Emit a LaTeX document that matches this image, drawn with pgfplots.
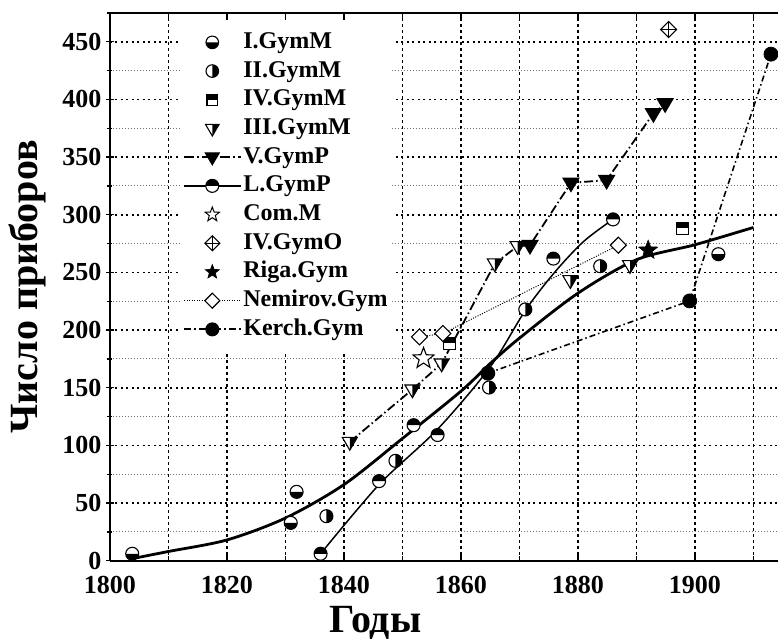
\documentclass[border=0pt]{standalone}
\usepackage{fontspec}
\setmainfont{Liberation Serif}
\usepackage{pgfplots}
\pgfplotsset{compat=1.18}

% circle, bottom half black
\pgfdeclareplotmark{hcB}{%
  \pgfpathcircle{\pgfpointorigin}{\pgfplotmarksize}%
  \pgfsetfillcolor{white}\pgfusepath{fill}%
  \pgfpathmoveto{\pgfpoint{-\pgfplotmarksize}{0pt}}%
  \pgfpatharc{180}{360}{\pgfplotmarksize}%
  \pgfpathclose
  \pgfsetfillcolor{black}\pgfusepath{fill}%
  \pgfpathcircle{\pgfpointorigin}{\pgfplotmarksize}%
  \pgfusepath{stroke}%
}
% circle, top half black
\pgfdeclareplotmark{hcT}{%
  \pgfpathcircle{\pgfpointorigin}{\pgfplotmarksize}%
  \pgfsetfillcolor{white}\pgfusepath{fill}%
  \pgfpathmoveto{\pgfpoint{\pgfplotmarksize}{0pt}}%
  \pgfpatharc{0}{180}{\pgfplotmarksize}%
  \pgfpathclose
  \pgfsetfillcolor{black}\pgfusepath{fill}%
  \pgfpathcircle{\pgfpointorigin}{\pgfplotmarksize}%
  \pgfusepath{stroke}%
}
% circle, right half black
\pgfdeclareplotmark{hcR}{%
  \pgfpathcircle{\pgfpointorigin}{\pgfplotmarksize}%
  \pgfsetfillcolor{white}\pgfusepath{fill}%
  \pgfpathmoveto{\pgfpoint{0pt}{-\pgfplotmarksize}}%
  \pgfpatharc{-90}{90}{\pgfplotmarksize}%
  \pgfpathclose
  \pgfsetfillcolor{black}\pgfusepath{fill}%
  \pgfpathcircle{\pgfpointorigin}{\pgfplotmarksize}%
  \pgfusepath{stroke}%
}
% square, top half black
\pgfdeclareplotmark{hsq}{%
  \pgfpathrectanglecorners{\pgfpoint{-\pgfplotmarksize}{-\pgfplotmarksize}}{\pgfpoint{\pgfplotmarksize}{\pgfplotmarksize}}%
  \pgfsetfillcolor{white}\pgfusepath{fill}%
  \pgfpathrectanglecorners{\pgfpoint{-\pgfplotmarksize}{0pt}}{\pgfpoint{\pgfplotmarksize}{\pgfplotmarksize}}%
  \pgfsetfillcolor{black}\pgfusepath{fill}%
  \pgfpathrectanglecorners{\pgfpoint{-\pgfplotmarksize}{-\pgfplotmarksize}}{\pgfpoint{\pgfplotmarksize}{\pgfplotmarksize}}%
  \pgfusepath{stroke}%
}
% down triangle, right half black
\pgfdeclareplotmark{htri}{%
  \pgfpathmoveto{\pgfpoint{-\pgfplotmarksize}{0.6\pgfplotmarksize}}%
  \pgfpathlineto{\pgfpoint{\pgfplotmarksize}{0.6\pgfplotmarksize}}%
  \pgfpathlineto{\pgfpoint{0pt}{-1.1\pgfplotmarksize}}%
  \pgfpathclose
  \pgfsetfillcolor{white}\pgfusepath{fill}%
  \pgfpathmoveto{\pgfpoint{0pt}{0.6\pgfplotmarksize}}%
  \pgfpathlineto{\pgfpoint{\pgfplotmarksize}{0.6\pgfplotmarksize}}%
  \pgfpathlineto{\pgfpoint{0pt}{-1.1\pgfplotmarksize}}%
  \pgfpathclose
  \pgfsetfillcolor{black}\pgfusepath{fill}%
  \pgfpathmoveto{\pgfpoint{-\pgfplotmarksize}{0.6\pgfplotmarksize}}%
  \pgfpathlineto{\pgfpoint{\pgfplotmarksize}{0.6\pgfplotmarksize}}%
  \pgfpathlineto{\pgfpoint{0pt}{-1.1\pgfplotmarksize}}%
  \pgfpathclose
  \pgfusepath{stroke}%
}
% filled down triangle
\pgfdeclareplotmark{ftri}{%
  \pgfpathmoveto{\pgfpoint{-\pgfplotmarksize}{0.6\pgfplotmarksize}}%
  \pgfpathlineto{\pgfpoint{\pgfplotmarksize}{0.6\pgfplotmarksize}}%
  \pgfpathlineto{\pgfpoint{0pt}{-1.1\pgfplotmarksize}}%
  \pgfpathclose
  \pgfsetfillcolor{black}\pgfusepath{fill,stroke}%
}
% diamond with cross
\pgfdeclareplotmark{dplus}{%
  \pgfpathmoveto{\pgfpoint{0pt}{\pgfplotmarksize}}%
  \pgfpathlineto{\pgfpoint{\pgfplotmarksize}{0pt}}%
  \pgfpathlineto{\pgfpoint{0pt}{-\pgfplotmarksize}}%
  \pgfpathlineto{\pgfpoint{-\pgfplotmarksize}{0pt}}%
  \pgfpathclose
  \pgfsetfillcolor{white}\pgfusepath{fill,stroke}%
  \pgfpathmoveto{\pgfpoint{0pt}{\pgfplotmarksize}}%
  \pgfpathlineto{\pgfpoint{0pt}{-\pgfplotmarksize}}%
  \pgfpathmoveto{\pgfpoint{-\pgfplotmarksize}{0pt}}%
  \pgfpathlineto{\pgfpoint{\pgfplotmarksize}{0pt}}%
  \pgfusepath{stroke}%
}
% open diamond
\pgfdeclareplotmark{odia}{%
  \pgfpathmoveto{\pgfpoint{0pt}{\pgfplotmarksize}}%
  \pgfpathlineto{\pgfpoint{\pgfplotmarksize}{0pt}}%
  \pgfpathlineto{\pgfpoint{0pt}{-\pgfplotmarksize}}%
  \pgfpathlineto{\pgfpoint{-\pgfplotmarksize}{0pt}}%
  \pgfpathclose
  \pgfsetfillcolor{white}\pgfusepath{fill,stroke}%
}
% five-pointed star path
\def\starpath{%
  \pgfpathmoveto{\pgfpointpolar{90}{\pgfplotmarksize}}%
  \pgfpathlineto{\pgfpointpolar{126}{0.42\pgfplotmarksize}}%
  \pgfpathlineto{\pgfpointpolar{162}{\pgfplotmarksize}}%
  \pgfpathlineto{\pgfpointpolar{198}{0.42\pgfplotmarksize}}%
  \pgfpathlineto{\pgfpointpolar{234}{\pgfplotmarksize}}%
  \pgfpathlineto{\pgfpointpolar{270}{0.42\pgfplotmarksize}}%
  \pgfpathlineto{\pgfpointpolar{306}{\pgfplotmarksize}}%
  \pgfpathlineto{\pgfpointpolar{342}{0.42\pgfplotmarksize}}%
  \pgfpathlineto{\pgfpointpolar{18}{\pgfplotmarksize}}%
  \pgfpathlineto{\pgfpointpolar{54}{0.42\pgfplotmarksize}}%
  \pgfpathclose}
\pgfdeclareplotmark{ostar}{\starpath\pgfsetfillcolor{white}\pgfusepath{fill,stroke}}
\pgfdeclareplotmark{fstar}{\starpath\pgfsetfillcolor{black}\pgfusepath{fill,stroke}}
% filled circle
\pgfdeclareplotmark{fcirc}{%
  \pgfpathcircle{\pgfpointorigin}{\pgfplotmarksize}%
  \pgfsetfillcolor{black}\pgfusepath{fill,stroke}%
}

\begin{document}
\begin{tikzpicture}[trim axis right]
\begin{axis}[
  scale only axis,
  width=668pt, height=547.7pt,
  xmin=1800, xmax=1914.2,
  ymin=0, ymax=475,
  axis x line=box, axis y line=left,
  axis line style={-, line width=2pt},
  xtick={1800,1820,...,1900},
  minor xtick={1810,1830,...,1910},
  ytick={0,50,...,450},
  minor ytick={25,75,...,475},
  major tick length=8pt, minor tick length=5pt,
  every tick/.style={black, line width=1.3pt},
  grid=both,
  major x grid style={black, line width=1.3pt, dash pattern=on 2.5pt off 3.5pt},
  minor x grid style={black, line width=1.3pt, dash pattern=on 2.5pt off 3.5pt},
  major y grid style={black, line width=1.6pt, dash pattern=on 2pt off 3.5pt},
  minor y grid style={black!55, line width=1pt, dash pattern=on 1pt off 2pt},
  /pgf/number format/1000 sep={},
  /pgf/number format/assume math mode=true,
  tick label style={font=\bfseries\fontsize{26}{26}\selectfont},
  xticklabel style={yshift=-12pt},
  yticklabel style={xshift=-1pt},
  xlabel={Годы},
  ylabel={Число приборов},
  every axis x label/.style={at={(axis description cs:0.397,-0.1306)}, anchor=base, font=\bfseries\fontsize{40}{40}\selectfont},
  every axis y label/.style={at={(axis description cs:-0.1078,0.5)}, rotate=90, anchor=base, font=\bfseries\fontsize{40}{40}\selectfont},
  legend style={draw=none, fill=white, at={(axis description cs:0.1048,0.9869)}, anchor=north west,
    font=\bfseries\fontsize{24}{24}\selectfont, row sep=4.7pt, inner xsep=3pt, inner ysep=10pt,
    nodes={inner sep=1pt, text height=17pt, text depth=5pt}},
  legend cell align=left,
  legend image code/.code={\draw[mark repeat=2,mark phase=2,#1] plot coordinates {(0pt,0pt) (28pt,0pt) (57pt,0pt)};},
]
% legend entries
\addlegendimage{only marks, mark=hcB, mark size=6.3pt, mark options={line width=1.1pt}}
\addlegendentry{I.GymM}
\addlegendimage{only marks, mark=hcR, mark size=6.3pt, mark options={line width=1.1pt}}
\addlegendentry{II.GymM}
\addlegendimage{only marks, mark=hsq, mark size=5.3pt, mark options={line width=1.1pt}}
\addlegendentry{IV.GymM}
\addlegendimage{only marks, mark=htri, mark size=6.8pt, mark options={line width=1.1pt}}
\addlegendentry{III.GymM}
\addlegendimage{black, line width=2.2pt, dash pattern=on 10pt off 3pt on 2pt off 3pt, mark=ftri, mark size=7pt, mark options={solid, line width=1pt}}
\addlegendentry{V.GymP}
\addlegendimage{black, line width=2.2pt, mark=hcT, mark size=6.5pt, mark options={solid, line width=1.1pt}}
\addlegendentry{L.GymP}
\addlegendimage{only marks, mark=ostar, mark size=7.5pt, mark options={line width=1pt}}
\addlegendentry{Com.M}
\addlegendimage{only marks, mark=dplus, mark size=7.5pt, mark options={line width=1.1pt}}
\addlegendentry{IV.GymO}
\addlegendimage{only marks, mark=fstar, mark size=7.5pt, mark options={line width=0.6pt}}
\addlegendentry{Riga.Gym}
\addlegendimage{black, line width=1.2pt, dash pattern=on 1pt off 1.5pt, mark=odia, mark size=7.5pt, mark options={solid, line width=1.1pt}}
\addlegendentry{Nemirov.Gym}
\addlegendimage{black, line width=2pt, dash pattern=on 7pt off 3pt on 2pt off 3pt, mark=fcirc, mark size=6.5pt, mark options={solid, line width=1pt}}
\addlegendentry{Kerch.Gym}

% thick fitted curve
\addplot[forget plot, black, line width=2.8pt, smooth, no marks] coordinates {
 (1804,2) (1810,8) (1820,18) (1830,37) (1840,66) (1850,106) (1860,147) (1865,171)
 (1870,193) (1880,232) (1890,261) (1900,274) (1910,289)};
% L.GymP line
\addplot[forget plot, black, line width=1.5pt, smooth, no marks] coordinates {
 (1836,6) (1846,66) (1856,114) (1865,168) (1871,217) (1876,250) (1881,277) (1886,296)};
% V.GymP line
\addplot[forget plot, black, line width=1.8pt, dash pattern=on 9pt off 3pt on 1.5pt off 3pt, no marks] coordinates {
 (1841,103) (1851.7,148.5) (1856.7,171) (1865.8,257.8) (1869.7,272.8) (1871.8,273.6)
 (1878.8,327.7) (1884.9,330) (1892.9,387.9) (1894.9,396.5)};
% Nemirov line
\addplot[forget plot, black, line width=1pt, dash pattern=on 1pt off 1.5pt, no marks] coordinates {
 (1852.9,194.1) (1856.9,197) (1886.9,273.6)};
% Kerch line
\addplot[forget plot, black, line width=1.6pt, dash pattern=on 6pt off 3pt on 1.5pt off 3pt, no marks] coordinates {
 (1864.6,162.6) (1899.1,225.3) (1913,439.3)};

% markers
\addplot[forget plot, only marks, mark=hcB, mark size=6.5pt, mark options={line width=1.1pt}] coordinates {
 (1803.8,6) (1830.9,32.8) (1831.9,59.7) (1904,265.8)};
\addplot[forget plot, only marks, mark=hcR, mark size=6.5pt, mark options={line width=1.1pt}] coordinates {
 (1837,38.6) (1848.8,86.6) (1864.8,150.2) (1871,217.9) (1883.8,255.4)};
\addplot[forget plot, only marks, mark=hsq, mark size=6pt, mark options={line width=1.1pt}] coordinates {
 (1858,188.4) (1897.9,288.1)};
\addplot[forget plot, only marks, mark=htri, mark size=7.5pt, mark options={line width=1.1pt}] coordinates {
 (1841,103) (1851.7,148.5) (1856.7,171) (1865.8,257.8) (1869.7,272.8) (1878.7,243.3) (1888.9,256.3)};
\addplot[forget plot, only marks, mark=ftri, mark size=8pt, mark options={line width=1pt}] coordinates {
 (1871.8,273.6) (1878.8,327.7) (1884.9,330) (1892.9,387.9) (1894.9,396.5)};
\addplot[forget plot, only marks, mark=hcT, mark size=6.5pt, mark options={line width=1.1pt}] coordinates {
 (1836,6) (1846,69) (1851.9,117.5) (1856,109) (1875.8,262) (1886,296)};
\addplot[forget plot, only marks, mark=ostar, mark size=11pt, mark options={line width=1.1pt}] coordinates {
 (1853.6,175.4)};
\addplot[forget plot, only marks, mark=dplus, mark size=8pt, mark options={line width=1.1pt}] coordinates {
 (1895.5,460.7)};
\addplot[forget plot, only marks, mark=fstar, mark size=10pt, mark options={line width=0.6pt}] coordinates {
 (1892,269.3)};
\addplot[forget plot, only marks, mark=odia, mark size=8pt, mark options={line width=1.1pt}] coordinates {
 (1852.9,194.1) (1856.9,197) (1886.9,273.6)};
\addplot[forget plot, only marks, mark=fcirc, mark size=7pt, mark options={line width=0.8pt}] coordinates {
 (1864.6,162.6) (1899.1,225.3) (1913,439.3)};
\end{axis}
% reserve the reference's margins
\path (current axis.south west) ++(-110pt,-82.5pt);
\path (current axis.north west) ++(0pt,13pt);
\end{tikzpicture}
\end{document}
